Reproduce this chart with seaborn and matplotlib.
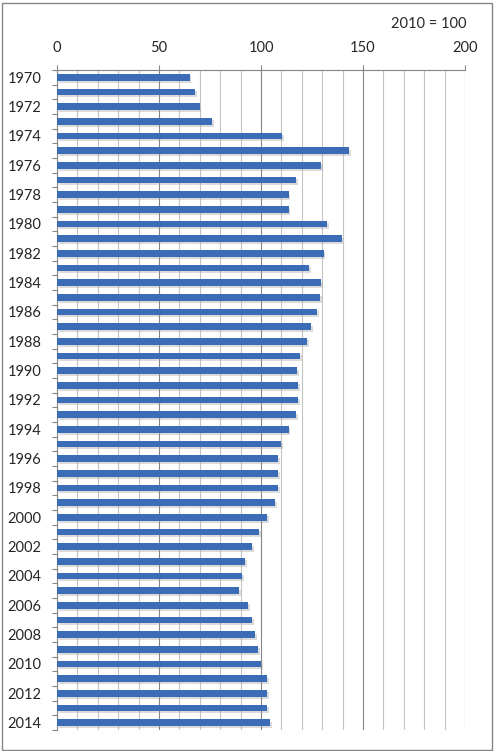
import numpy as np
import pandas as pd
import seaborn as sns
import matplotlib.pyplot as plt
import matplotlib.patheffects as pe
from matplotlib.patches import Rectangle
from matplotlib.ticker import MultipleLocator, FixedLocator

years = list(range(1970, 2015))
values = [
    65.1, 67.7, 70.0, 76.0, 110.3, 143.1, 129.4, 117.1, 113.5, 113.5,
    132.3, 139.6, 130.8, 123.5, 129.4, 128.9, 127.4, 124.5, 122.5, 119.1,
    117.6, 118.1, 118.1, 117.1, 113.5, 109.8, 108.3, 108.3, 108.3, 106.9,
    102.9, 99.0, 95.6, 92.2, 90.7, 89.2, 93.6, 95.6, 97.1, 98.5,
    100.0, 102.9, 102.9, 102.9, 104.4,
]
base_note = "2010 = 100"

df = pd.DataFrame({"year": [str(y) for y in years], "index": values})

sns.set_style("white")
plt.rcParams['font.family'] = ['Lato', 'DejaVu Sans']

fig = plt.figure(figsize=(4.94, 7.51), dpi=100)
ax = fig.add_axes([57 / 494, 1 - 730 / 751, (465 - 57) / 494, 660 / 751])

sns.barplot(data=df, x="index", y="year", orient="h", color="#3a6db5",
            width=0.44, saturation=1, linewidth=0, ax=ax, zorder=3)
for bar in ax.patches:
    bar.set_path_effects([pe.SimplePatchShadow(offset=(1.2, -1.5), shadow_rgbFace="#9a9a9a", alpha=0.35),
                          pe.Normal()])

# x axis on top
ax.set_xlim(0, 200)
ax.xaxis.tick_top()
ax.xaxis.set_major_locator(MultipleLocator(50))
ax.xaxis.set_minor_locator(MultipleLocator(10))
ax.grid(axis="x", which="major", color="#868686", lw=0.8, zorder=0)
ax.grid(axis="x", which="minor", color="#c4c4c4", lw=0.8, zorder=0)
ax.tick_params(axis="x", which="major", top=True, length=3.6, width=0.8, color="#868686",
               pad=7, labelsize=10.5)
ax.tick_params(axis="x", which="minor", top=False, length=0)

# y axis: labels every other year, ticks between categories
n = len(years)
ax.set_ylim(n - 0.5, -0.5)
ax.yaxis.set_major_locator(FixedLocator(list(range(0, n, 2))))
ax.set_yticklabels([str(y) for y in years[::2]])
ax.yaxis.set_minor_locator(FixedLocator([i - 0.5 for i in range(n + 1)]))
ax.tick_params(axis="y", which="major", left=True, length=0, pad=11, labelsize=10.5)
ax.tick_params(axis="y", which="minor", left=True, length=3.6, width=0.8, color="#868686")
ax.set_xlabel("")
ax.set_ylabel("")

for side in ["right", "bottom"]:
    ax.spines[side].set_visible(False)
for side in ["left", "top"]:
    ax.spines[side].set_color("#868686")
    ax.spines[side].set_linewidth(0.8)

fig.text(466 / 494, 1 - 24 / 751, base_note, ha="right", va="center", fontsize=10.5)

# outer chart border
fig.patches.append(Rectangle((1.5 / 494, 1.5 / 751), 490 / 494, 747 / 751, transform=fig.transFigure,
                             fill=False, edgecolor="#868686", lw=1))

fig.savefig("out.png", dpi=100)
